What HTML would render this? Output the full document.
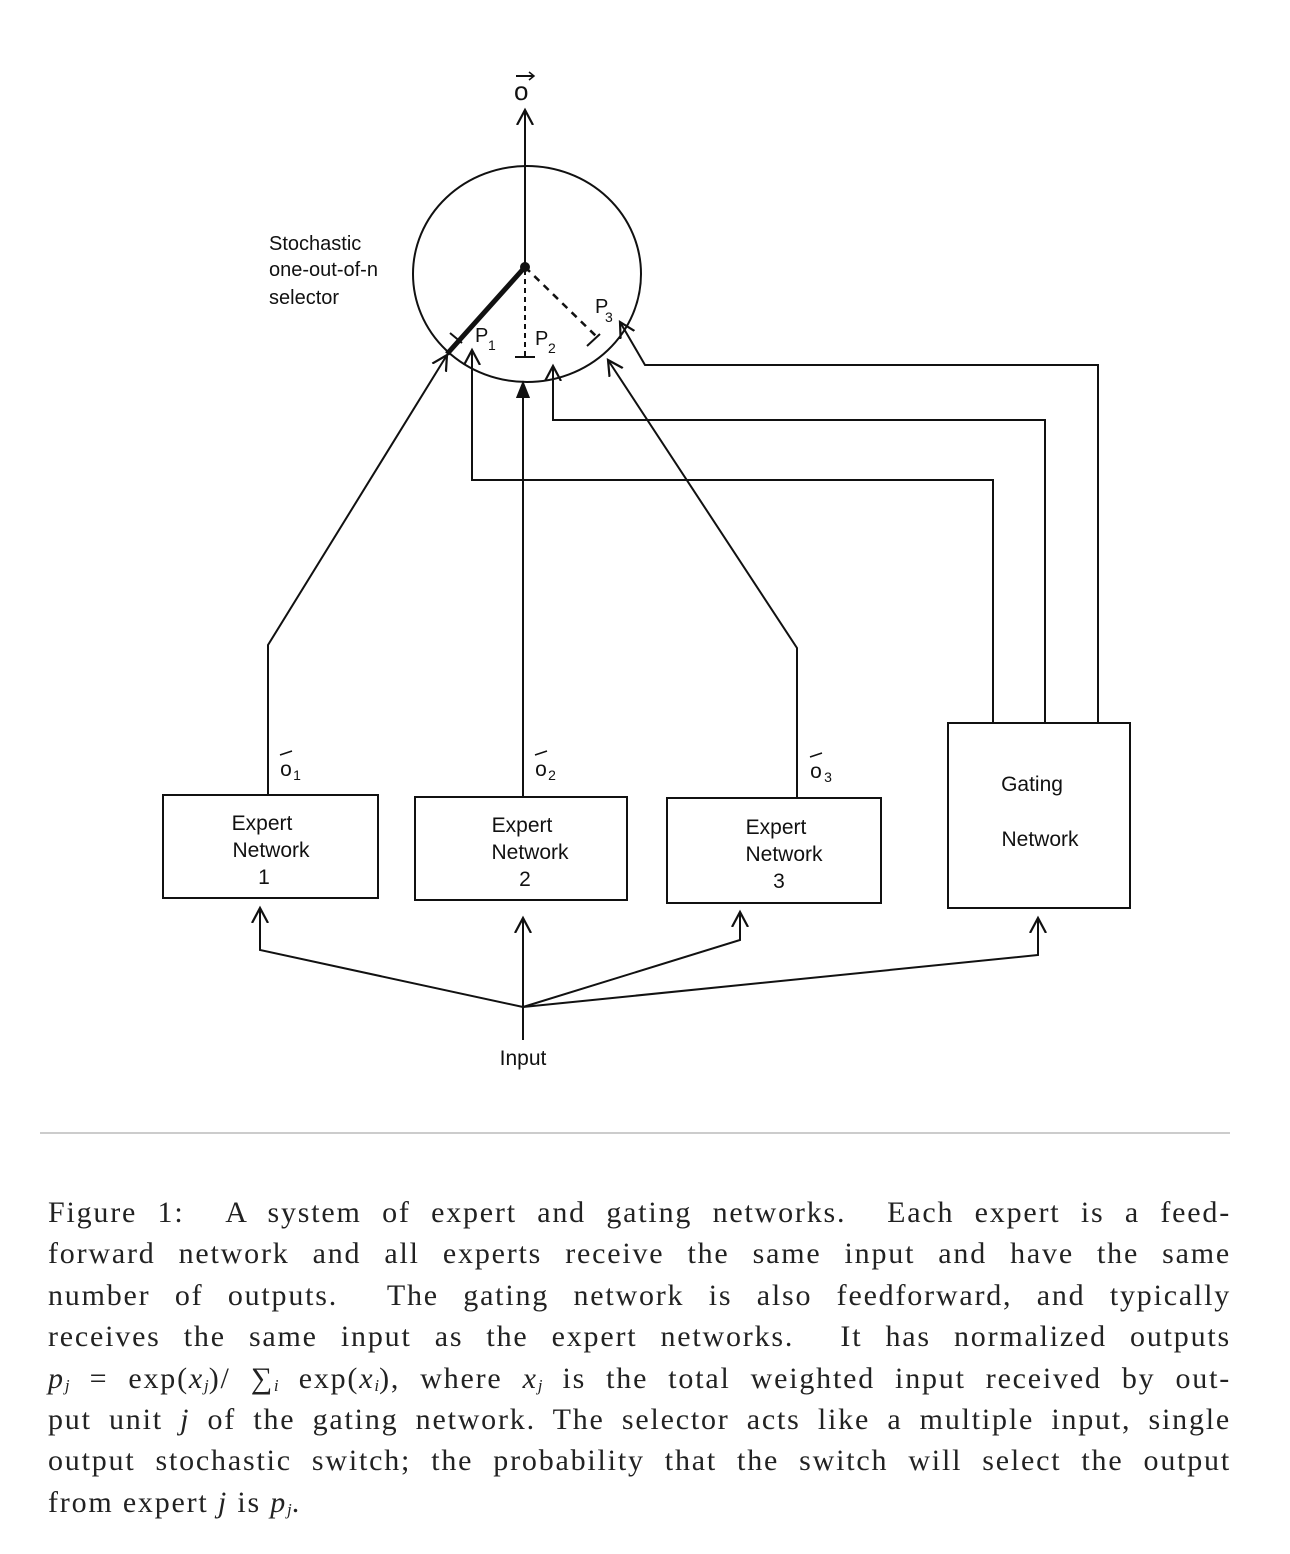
<!DOCTYPE html>
<html><head><meta charset="utf-8"><style>
body{margin:0;width:1290px;height:1554px;background:#fff;position:relative;overflow:hidden}
svg{position:absolute;left:0;top:0}
.cap{position:absolute;left:48px;top:1192px;width:1183px;font-family:"Liberation Serif",serif;font-size:30px;letter-spacing:1.8px;line-height:41.4px;color:#222}
.cap div{text-align:justify;text-align-last:justify;height:41.4px;white-space:nowrap}
.cap div.l{text-align-last:left}
.cap sub{font-size:17px;line-height:0;position:relative;top:3px;vertical-align:baseline;letter-spacing:0}
</style></head><body>
<svg width="1290" height="1554" font-family="Liberation Sans, sans-serif" fill="none" stroke="#111" stroke-width="2">
<defs><marker id="a" markerWidth="18" markerHeight="20" refX="15" refY="10" orient="auto" markerUnits="userSpaceOnUse"><path d="M0,2 L15,10 L0,18" fill="none" stroke="#111" stroke-width="2.2"/></marker>
<marker id="f" markerWidth="18" markerHeight="16" refX="15" refY="8" orient="auto" markerUnits="userSpaceOnUse"><path d="M0,2 L15,8 L0,14z" fill="#111"/></marker></defs>
<line x1="40" y1="1133" x2="1230" y2="1133" stroke="#999" stroke-width="1"/>
<ellipse cx="527" cy="274" rx="114" ry="108"/>
<line x1="525" y1="267" x2="525" y2="110" marker-end="url(#a)"/>
<text x="514" y="100" font-size="26" fill="#111" stroke="none">o</text>
<line x1="516" y1="76" x2="534" y2="76"/><path d="M529,72 L534,76 L529,80" stroke-width="1.5"/>
<circle cx="525" cy="267" r="4" fill="#111"/>
<line x1="525" y1="267" x2="447" y2="354" stroke-width="5"/>
<line x1="525" y1="270" x2="525" y2="358" stroke-dasharray="5,4"/>
<line x1="525" y1="267" x2="598" y2="338" stroke-dasharray="7,6" stroke-width="2.5"/>
<line x1="450" y1="333" x2="462" y2="343"/><line x1="515" y1="357" x2="535" y2="357"/><line x1="587" y1="346" x2="600" y2="334"/>
<g fill="#111" stroke="none" font-size="20"><text x="269" y="250">Stochastic</text><text x="269" y="276">one-out-of-n</text><text x="269" y="304">selector</text>
<text x="475" y="342">P</text><text x="488" y="350" font-size="14">1</text>
<text x="535" y="345">P</text><text x="548" y="353" font-size="14">2</text>
<text x="595" y="313">P</text><text x="605" y="322" font-size="14">3</text></g>
<polyline points="268,795 268,645 447,355" marker-end="url(#a)"/>
<line x1="523" y1="797" x2="523" y2="383" marker-end="url(#f)"/>
<polyline points="797,797 797,648 608,360" marker-end="url(#a)"/>
<polyline points="993,723 993,480 472,480 472,350" marker-end="url(#a)"/>
<polyline points="1045,723 1045,420 553,420 553,366" marker-end="url(#a)"/>
<polyline points="1098,723 1098,365 645,365 620,322" marker-end="url(#a)"/>
<rect x="163" y="795" width="215" height="103"/>
<rect x="415" y="797" width="212" height="103"/>
<rect x="667" y="798" width="214" height="105"/>
<rect x="948" y="723" width="182" height="185"/>
<g fill="#111" stroke="none" font-size="21" text-anchor="middle">
<text x="262" y="830">Expert</text><text x="271" y="857">Network</text><text x="264" y="884">1</text>
<text x="522" y="832">Expert</text><text x="530" y="859">Network</text><text x="525" y="886">2</text>
<text x="776" y="834">Expert</text><text x="784" y="861">Network</text><text x="779" y="888">3</text>
<text x="1032" y="791">Gating</text><text x="1040" y="846">Network</text>
<text x="523" y="1065">Input</text>
<text x="286" y="776" font-size="21">o</text><text x="297" y="780" font-size="14">1</text>
<text x="541" y="776" font-size="21">o</text><text x="552" y="780" font-size="14">2</text>
<text x="816" y="778" font-size="21">o</text><text x="828" y="782" font-size="14">3</text></g>
<g stroke-width="1.5"><line x1="280" y1="755" x2="292" y2="751"/><line x1="535" y1="755" x2="547" y2="751"/><line x1="810" y1="757" x2="822" y2="753"/></g>
<polyline points="523,1007 260,950 260,908" marker-end="url(#a)"/>
<line x1="523" y1="1040" x2="523" y2="918" marker-end="url(#a)"/>
<polyline points="523,1007 740,940 740,912" marker-end="url(#a)"/>
<polyline points="523,1007 1038,955 1038,918" marker-end="url(#a)"/>
</svg>
<div class="cap">
<div>Figure 1: &nbsp;A system of expert and gating networks. &nbsp;Each expert is a feed-</div>
<div>forward network and all experts receive the same input and have the same</div>
<div>number of outputs. &nbsp;The gating network is also feedforward, and typically</div>
<div>receives the same input as the expert networks. &nbsp;It has normalized outputs</div>
<div><i>p<sub>j</sub></i> = exp(<i>x<sub>j</sub></i>)/ &sum;<sub><i>i</i></sub> exp(<i>x<sub>i</sub></i>), where <i>x<sub>j</sub></i> is the total weighted input received by out-</div>
<div>put unit <i>j</i> of the gating network. The selector acts like a multiple input, single</div>
<div>output stochastic switch; the probability that the switch will select the output</div>
<div class="l">from expert <i>j</i> is <i>p<sub>j</sub></i>.</div>
</div>
</body></html>
